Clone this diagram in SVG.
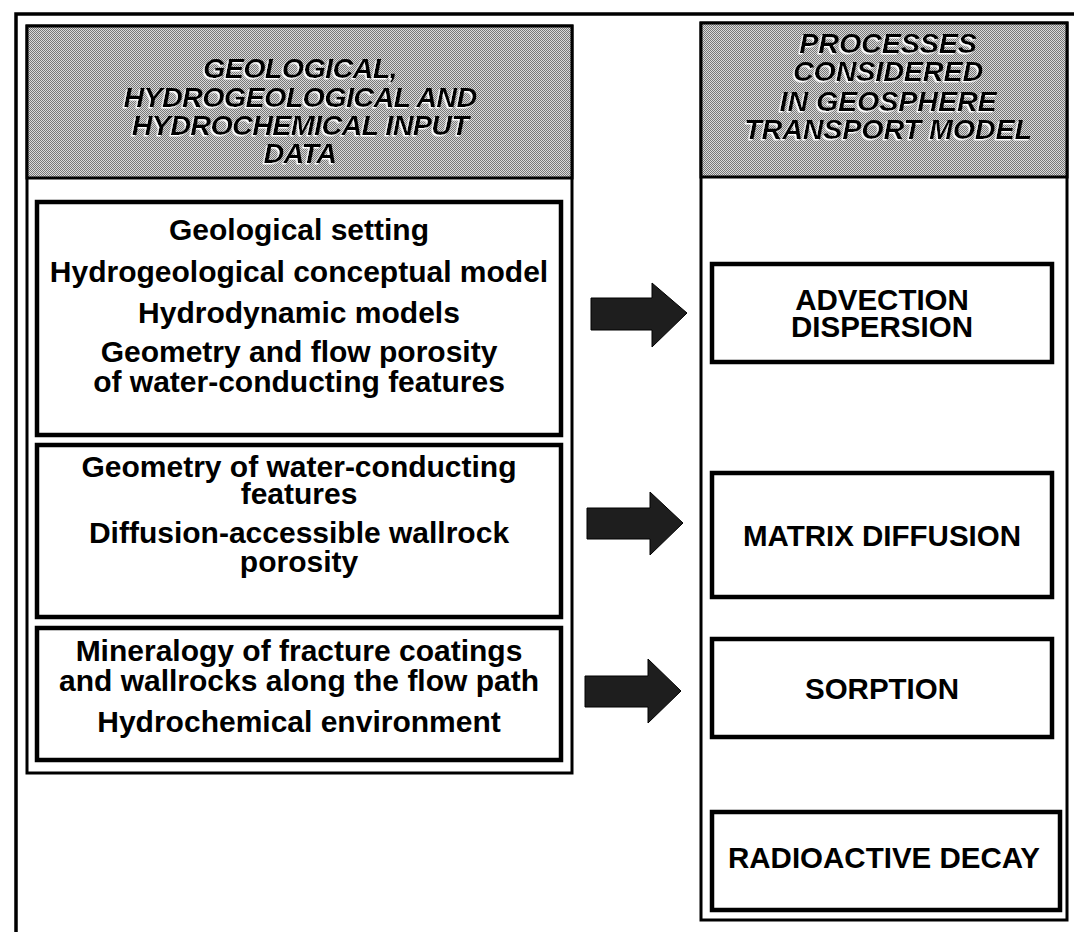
<svg xmlns="http://www.w3.org/2000/svg" width="1074" height="932" viewBox="0 0 1074 932">
  <defs>
    <!-- dithered grey used for the panel headings -->
    <pattern id="dither" width="2" height="2" patternUnits="userSpaceOnUse">
      <rect width="2" height="2" fill="#dadada"/>
      <rect width="1" height="1" fill="#777"/>
      <rect x="1" y="1" width="1" height="1" fill="#777"/>
    </pattern>
    <!-- light offset shadow behind the heading lettering -->
    <filter id="halo" x="-10%" y="-30%" width="120%" height="160%">
      <feDropShadow dx="-1.5" dy="1.5" stdDeviation="0" flood-color="#fff" flood-opacity="1"/>
    </filter>
    <style>
      .frame { fill: none; stroke: #000; stroke-width: 3.5; }
      .panel { fill: #fff; stroke: #000; stroke-width: 3; }
      .box { fill: #fff; stroke: #000; stroke-width: 4.5; }
      .head { fill: url(#dither); stroke: #000; stroke-width: 3; }
      .htxt { font-family: "Liberation Sans", Arial, sans-serif; font-weight: bold; font-style: italic; font-size: 28.5px; text-anchor: middle; letter-spacing: -0.5px; fill: #000; filter: url(#halo); }
      .htxt-r { letter-spacing: 0px; }
      .txt { font-family: "Liberation Sans", Arial, sans-serif; font-weight: bold; font-size: 30px; text-anchor: middle; fill: #000; }
      .ptxt { font-family: "Liberation Sans", Arial, sans-serif; font-weight: bold; font-size: 29.5px; text-anchor: middle; fill: #000; }
      .arrow { fill: #1e1e1e; stroke: #000; stroke-width: 1; }
    </style>
  </defs>

  <rect width="1074" height="932" fill="#fff"/>

  <!-- page frame: top rule and left rule -->
  <path class="frame" d="M16 932 V14 H1074"/>

  <!-- left column: input data -->
  <g id="input-panel">
    <rect class="panel" x="27" y="26" width="545" height="747"/>
    <rect class="head" x="27" y="26" width="545" height="152"/>
    <g class="htxt">
      <text x="300" y="78">GEOLOGICAL,</text>
      <text x="300" y="107">HYDROGEOLOGICAL AND</text>
      <text x="300" y="135">HYDROCHEMICAL INPUT</text>
      <text x="300" y="163">DATA</text>
    </g>
  </g>

  <g id="hydro-data">
    <rect class="box" x="37" y="202" width="524" height="233"/>
    <text class="txt" x="299" y="240">Geological setting</text>
    <text class="txt" x="299" y="282">Hydrogeological conceptual model</text>
    <text class="txt" x="299" y="323">Hydrodynamic models</text>
    <text class="txt" x="299" y="362">Geometry and flow porosity</text>
    <text class="txt" x="299" y="392">of water-conducting features</text>
  </g>

  <g id="structure-data">
    <rect class="box" x="37" y="445" width="524" height="172"/>
    <text class="txt" x="299" y="477">Geometry of water-conducting</text>
    <text class="txt" x="299" y="504">features</text>
    <text class="txt" x="299" y="543">Diffusion-accessible wallrock</text>
    <text class="txt" x="299" y="572">porosity</text>
  </g>

  <g id="chemistry-data">
    <rect class="box" x="37" y="628" width="524" height="132"/>
    <text class="txt" x="299" y="661">Mineralogy of fracture  coatings</text>
    <text class="txt" x="299" y="691">and wallrocks along the flow path</text>
    <text class="txt" x="299" y="732">Hydrochemical environment</text>
  </g>

  <!-- right column: transport processes -->
  <g id="process-panel">
    <rect class="panel" x="701" y="23" width="366" height="897"/>
    <rect class="head" x="701" y="23" width="366" height="154"/>
    <g class="htxt htxt-r">
      <text x="888" y="53">PROCESSES</text>
      <text x="888" y="81">CONSIDERED</text>
      <text x="888" y="111">IN GEOSPHERE</text>
      <text x="888" y="139">TRANSPORT MODEL</text>
    </g>
  </g>

  <g id="advection">
    <rect class="box" x="712" y="264" width="340" height="98"/>
    <text class="ptxt" x="882" y="310">ADVECTION</text>
    <text class="ptxt" x="882" y="337">DISPERSION</text>
  </g>

  <g id="matrix-diffusion">
    <rect class="box" x="712" y="473" width="340" height="124"/>
    <text class="ptxt" x="882" y="546">MATRIX DIFFUSION</text>
  </g>

  <g id="sorption">
    <rect class="box" x="712" y="639" width="340" height="98"/>
    <text class="ptxt" x="882" y="699">SORPTION</text>
  </g>

  <g id="radioactive-decay">
    <rect class="box" x="712" y="812" width="348" height="98"/>
    <text class="ptxt" x="884" y="868">RADIOACTIVE DECAY</text>
  </g>

  <!-- block arrows linking data to processes -->
  <g id="connectors">
    <path class="arrow" d="M591 298 H652 V283 L687 313 L652 347 V330 H591 Z"/>
    <path class="arrow" d="M587 508 H650 V492 L683 523 L650 555 V539 H587 Z"/>
    <path class="arrow" d="M585 676 H648 V659 L681 691 L648 723 V707 H585 Z"/>
  </g>
</svg>
